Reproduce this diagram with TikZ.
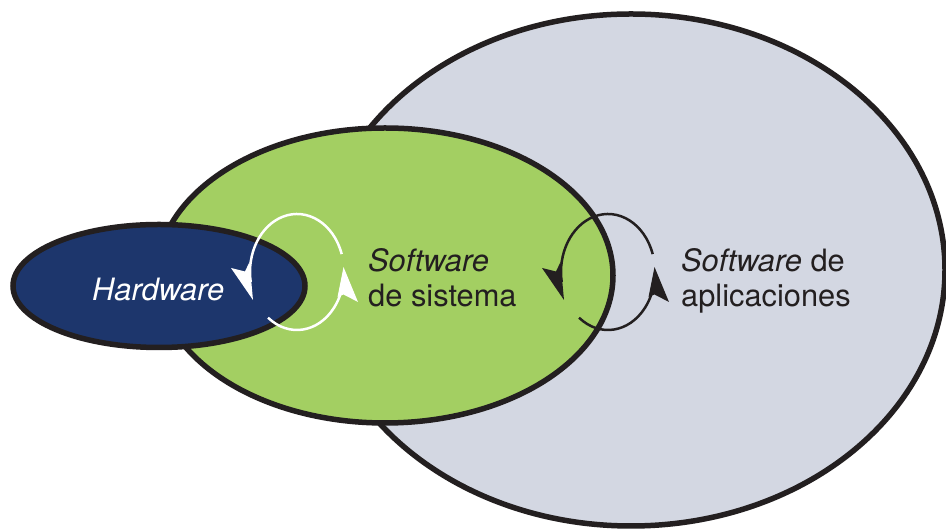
\documentclass[tikz,border=0pt]{standalone}
\usepackage{fontspec}
\setmainfont{TeX Gyre Heros}
\definecolor{appgrey}{HTML}{D3D7E2}
\definecolor{sysgreen}{HTML}{A3CF62}
\definecolor{hwblue}{HTML}{1D366C}
\definecolor{ink}{HTML}{231F20}

\tikzset{
  % a two-way loop: two elliptic arcs, each ending in a one-sided arrowhead
  pics/feedback/.style={code={
    \draw[line width=2.5pt,draw=#1] (18:47 and 58)
      arc[start angle=18,end angle=190,x radius=47,y radius=58];
    \draw[line width=2.5pt,draw=#1] (232:47 and 58)
      arc[start angle=232,end angle=355,x radius=47,y radius=58];
    \fill[#1] (-44,-28) -- (-66,4) -- (-52,0.5) -- (-47.5,10) -- cycle;
    \fill[#1] (46.5,5) -- (61,-30) -- (46.5,-22.5) -- (40.5,-25) -- cycle;
  }}
}

\begin{document}
\begin{tikzpicture}[x=1pt,y=1pt,
  layer/.style={draw=ink,line width=5.5pt},
  lbl/.style={font=\fontsize{30.8}{38}\selectfont,text=ink,inner sep=0pt,anchor=base west},
]
\useasboundingbox (0,0) rectangle (946,529);
\fill[white] (0,0) rectangle (946,529);

% the three nested layers
\filldraw[layer,fill=appgrey] (631,259) ellipse [x radius=314,y radius=256];
\filldraw[layer,fill=sysgreen] (385,253.5) ellipse [x radius=228,y radius=147.5];
\filldraw[layer,fill=hwblue] (159,243) ellipse [x radius=146,y radius=61.5];

% labels
\node[lbl,text=white] (hw) at (92,228) {\itshape Hardware};
\node[lbl] (sys1) at (368,257) {\itshape Software};
\node[lbl] (sys2) at (368,222) {de sistema};
\node[lbl] (app1) at (681,257) {\textit{Software} de};
\node[lbl] (app2) at (681,222) {aplicaciones};

% interaction loops between neighbouring layers
\coordinate (hwloop) at (297,257);
\coordinate (apploop) at (608,257);
\pic at (hwloop) {feedback=white};
\pic at (apploop) {feedback=ink};
\end{tikzpicture}
\end{document}
